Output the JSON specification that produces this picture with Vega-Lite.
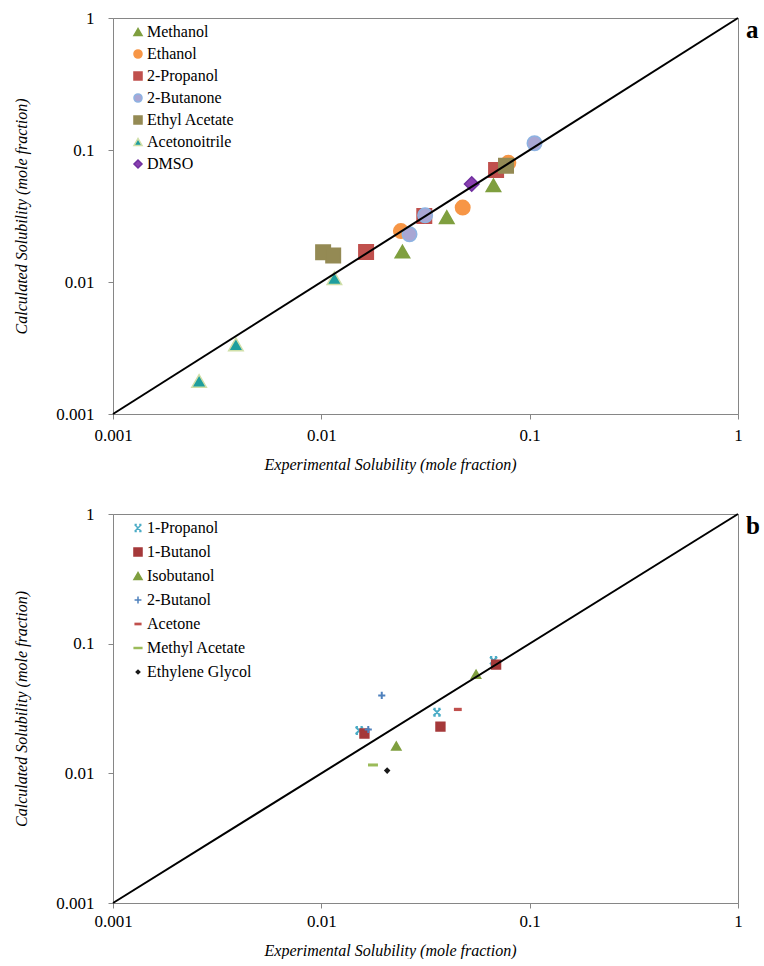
{
  "$schema": "https://vega.github.io/schema/vega-lite/v6.json",
  "padding": {"left": 12, "top": 8, "right": 0, "bottom": 0},
  "background": "white",
  "spacing": 31,
  "resolve": {
    "scale": {"fill": "independent", "stroke": "independent", "shape": "independent"},
    "legend": {"fill": "independent", "stroke": "independent", "shape": "independent"}
  },
  "config": {
    "font": "Liberation Serif",
    "view": {"stroke": "#868686", "strokeWidth": 1},
    "axis": {
      "grid": false,
      "domainColor": "#868686",
      "tickColor": "#868686",
      "tickSize": 5,
      "labelFont": "Liberation Serif",
      "labelFontSize": 17,
      "labelColor": "#000000",
      "labelFlush": false,
      "labelOverlap": false,
      "titleFont": "Liberation Serif",
      "titleFontSize": 16,
      "titleFontStyle": "italic",
      "titleFontWeight": "normal",
      "titleColor": "#000000"
    },
    "legend": {
      "labelFont": "Liberation Serif",
      "labelFontSize": 16,
      "labelColor": "#000000",
      "orient": "top-left",
      "offset": 6,
      "padding": 0,
      "symbolOffset": 11,
      "labelOffset": 1,
      "symbolSize": 65
    }
  },
  "datasets": {
    "a": [
      {"solvent": "Methanol", "exp": 0.0245, "calc": 0.0170},
      {"solvent": "Methanol", "exp": 0.040, "calc": 0.031},
      {"solvent": "Methanol", "exp": 0.067, "calc": 0.054},
      {"solvent": "Ethanol", "exp": 0.0241, "calc": 0.0243},
      {"solvent": "Ethanol", "exp": 0.0477, "calc": 0.0366},
      {"solvent": "Ethanol", "exp": 0.079, "calc": 0.080},
      {"solvent": "2-Propanol", "exp": 0.0164, "calc": 0.0169},
      {"solvent": "2-Propanol", "exp": 0.0312, "calc": 0.0316},
      {"solvent": "2-Propanol", "exp": 0.069, "calc": 0.0705},
      {"solvent": "2-Butanone", "exp": 0.0265, "calc": 0.023},
      {"solvent": "2-Butanone", "exp": 0.0315, "calc": 0.032},
      {"solvent": "2-Butanone", "exp": 0.1055, "calc": 0.1125},
      {"solvent": "Ethyl Acetate", "exp": 0.0102, "calc": 0.0168},
      {"solvent": "Ethyl Acetate", "exp": 0.0114, "calc": 0.0159},
      {"solvent": "Ethyl Acetate", "exp": 0.077, "calc": 0.076},
      {"solvent": "Acetonoitrile", "exp": 0.01155, "calc": 0.0107},
      {"solvent": "Acetonoitrile", "exp": 0.00389, "calc": 0.00337},
      {"solvent": "Acetonoitrile", "exp": 0.00259, "calc": 0.00178},
      {"solvent": "DMSO", "exp": 0.0527, "calc": 0.0552}
    ],
    "b": [
      {"solvent": "1-Propanol", "exp": 0.0152, "calc": 0.0214},
      {"solvent": "1-Propanol", "exp": 0.0359, "calc": 0.0296},
      {"solvent": "1-Propanol", "exp": 0.0671, "calc": 0.074},
      {"solvent": "1-Butanol", "exp": 0.0161, "calc": 0.0203},
      {"solvent": "1-Butanol", "exp": 0.0373, "calc": 0.0229},
      {"solvent": "1-Butanol", "exp": 0.069, "calc": 0.069},
      {"solvent": "Isobutanol", "exp": 0.0229, "calc": 0.0162},
      {"solvent": "Isobutanol", "exp": 0.0553, "calc": 0.058},
      {"solvent": "2-Butanol", "exp": 0.0168, "calc": 0.0218},
      {"solvent": "2-Butanol", "exp": 0.0195, "calc": 0.0399},
      {"solvent": "Acetone", "exp": 0.0452, "calc": 0.0311},
      {"solvent": "Methyl Acetate", "exp": 0.0177, "calc": 0.0116},
      {"solvent": "Ethylene Glycol", "exp": 0.0207, "calc": 0.0105}
    ],
    "diag": [
      {"exp": 0.001, "calc": 0.001},
      {"exp": 1, "calc": 1}
    ]
  },
  "vconcat": [
    {
      "width": 625,
      "height": 396,
      "layer": [
        {
          "data": {"name": "a"},
          "mark": {"type": "point", "filled": true, "opacity": 1, "strokeWidth": 1.5, "size": 210},
          "encoding": {
            "x": {"field": "exp", "type": "quantitative", "scale": {"type": "log", "domain": [0.001, 1], "nice": false}, "axis": {"title": "Experimental Solubility (mole fraction)", "titleX": 277, "values": [0.001, 0.01, 0.1, 1], "format": "~g", "labelPadding": 8, "titlePadding": 12, "minExtent": 30, "maxExtent": 30}},
            "y": {"field": "calc", "type": "quantitative", "scale": {"type": "log", "domain": [0.001, 1], "nice": false}, "axis": {"title": "Calculated Solubility (mole fraction)", "values": [0.001, 0.01, 0.1, 1], "format": "~g", "labelPadding": 14, "titlePadding": 14, "minExtent": 70, "maxExtent": 70}},
            "fill": {"field": "solvent", "type": "nominal", "scale": {"domain": ["Methanol", "Ethanol", "2-Propanol", "2-Butanone", "Ethyl Acetate", "Acetonoitrile", "DMSO"], "range": ["#7F9F3F", "#F79646", "#C0504D", "#A9A6D3", "#948A54", "#1E9E9E", "#8A3FB0"]}, "legend": {"title": null, "rowPadding": 6}},
            "stroke": {"field": "solvent", "type": "nominal", "scale": {"domain": ["Methanol", "Ethanol", "2-Propanol", "2-Butanone", "Ethyl Acetate", "Acetonoitrile", "DMSO"], "range": ["#7F9F3F", "#F79646", "#C0504D", "#8DB3E2", "#948A54", "#D0DFA8", "#7030A0"]}, "legend": {"title": null, "rowPadding": 6}},
            "shape": {"field": "solvent", "type": "nominal", "scale": {"domain": ["Methanol", "Ethanol", "2-Propanol", "2-Butanone", "Ethyl Acetate", "Acetonoitrile", "DMSO"], "range": ["triangle-up", "circle", "square", "circle", "square", "triangle-up", "diamond"]}, "legend": {"title": null, "rowPadding": 6}}
          }
        },
        {
          "data": {"name": "diag"},
          "mark": {"type": "line", "color": "#000000", "strokeWidth": 2},
          "encoding": {
            "x": {"field": "exp", "type": "quantitative"},
            "y": {"field": "calc", "type": "quantitative"}
          }
        },
        {
          "data": {"values": [{"panel": "a"}]},
          "mark": {"type": "text", "align": "left", "baseline": "top", "dx": 8, "dy": 0, "fontSize": 25, "fontWeight": "bold", "font": "Liberation Serif", "color": "#000000"},
          "encoding": {
            "x": {"datum": 1},
            "y": {"datum": 1},
            "text": {"field": "panel"}
          }
        }
      ]
    },
    {
      "width": 625,
      "height": 389,
      "layer": [
        {
          "data": {"name": "b"},
          "mark": {"type": "point", "filled": true, "opacity": 1, "strokeWidth": 2, "size": 70},
          "encoding": {
            "x": {"field": "exp", "type": "quantitative", "scale": {"type": "log", "domain": [0.001, 1], "nice": false}, "axis": {"title": "Experimental Solubility (mole fraction)", "titleX": 277, "values": [0.001, 0.01, 0.1, 1], "format": "~g", "labelPadding": 5, "titlePadding": 13, "minExtent": 26, "maxExtent": 26}},
            "y": {"field": "calc", "type": "quantitative", "scale": {"type": "log", "domain": [0.001, 1], "nice": false}, "axis": {"title": "Calculated Solubility (mole fraction)", "values": [0.001, 0.01, 0.1, 1], "format": "~g", "labelPadding": 14, "titlePadding": 14, "minExtent": 70, "maxExtent": 70}},
            "fill": {"field": "solvent", "type": "nominal", "scale": {"domain": ["1-Propanol", "1-Butanol", "Isobutanol", "2-Butanol", "Acetone", "Methyl Acetate", "Ethylene Glycol"], "range": ["#4BACC6", "#A5393A", "#7F9F3F", "#4F81BD", "#C0504D", "#9BBB59", "#1A1A1A"]}, "legend": {"title": null, "rowPadding": 8}},
            "stroke": {"field": "solvent", "type": "nominal", "scale": {"domain": ["1-Propanol", "1-Butanol", "Isobutanol", "2-Butanol", "Acetone", "Methyl Acetate", "Ethylene Glycol"], "range": ["#4BACC6", "#A5393A", "#7F9F3F", "#4F81BD", "#C0504D", "#9BBB59", "#1A1A1A"]}, "legend": {"title": null, "rowPadding": 8}},
            "shape": {"field": "solvent", "type": "nominal", "scale": {"domain": ["1-Propanol", "1-Butanol", "Isobutanol", "2-Butanol", "Acetone", "Methyl Acetate", "Ethylene Glycol"], "range": ["M-0.85,-0.85L0.85,0.85M0.85,-0.85L-0.85,0.85M-0.85,-0.85L-0.3,-0.85M0.3,-0.85L0.85,-0.85M-0.85,0.85L-0.3,0.85M0.3,0.85L0.85,0.85", "square", "triangle-up", "M-0.85,0L0.85,0M0,-0.85L0,0.85", "M-0.7,-0.15L0.7,-0.15L0.7,0.15L-0.7,0.15Z", "M-0.95,-0.12L0.95,-0.12L0.95,0.12L-0.95,0.12Z", "M0,-0.45L0.45,0L0,0.45L-0.45,0Z"]}, "legend": {"title": null, "rowPadding": 8}}
          }
        },
        {
          "data": {"name": "diag"},
          "mark": {"type": "line", "color": "#000000", "strokeWidth": 2},
          "encoding": {
            "x": {"field": "exp", "type": "quantitative"},
            "y": {"field": "calc", "type": "quantitative"}
          }
        },
        {
          "data": {"values": [{"panel": "b"}]},
          "mark": {"type": "text", "align": "left", "baseline": "top", "dx": 8, "dy": 0, "fontSize": 25, "fontWeight": "bold", "font": "Liberation Serif", "color": "#000000"},
          "encoding": {
            "x": {"datum": 1},
            "y": {"datum": 1},
            "text": {"field": "panel"}
          }
        }
      ]
    }
  ]
}
